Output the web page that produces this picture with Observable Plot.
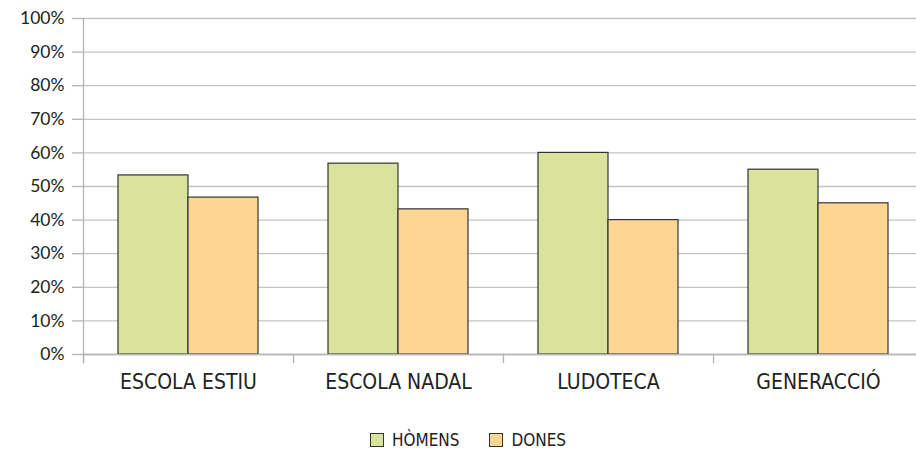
<!DOCTYPE html>
<html>
<head>
<meta charset="utf-8">
<script src="https://cdn.jsdelivr.net/npm/d3@7"></script>
<script src="https://cdn.jsdelivr.net/npm/@observablehq/plot@0.6"></script>
<style>
  html, body { margin: 0; padding: 0; background: #fff; overflow: hidden; }
  #chart svg { display: block; }
  .legend { display: flex; justify-content: center; align-items: center; height: 31px; padding-top: 12px; padding-left: 20px;
    font-family: "Liberation Sans Narrow", "DejaVu Sans Condensed", sans-serif; font-size: 17px; color: #222; }
  .legend .item { display: flex; align-items: center; margin: 0 15px; }
  .legend .sw { width: 12px; height: 12px; border: 1px solid #333; margin-right: 8px; }
</style>
</head>
<body>
<div id="chart"></div>
<div class="legend" id="legend"></div>
<script>
const categories = ["ESCOLA ESTIU", "ESCOLA NADAL", "LUDOTECA", "GENERACCIÓ"];
const series = ["HÒMENS", "DONES"];
const homens = [53.3, 56.8, 60, 55];
const dones = [46.7, 43.2, 40, 45];
const yTicks = [0, 10, 20, 30, 40, 50, 60, 70, 80, 90, 100];
const colors = ["#dae39c", "#fed693"];

const data = categories.flatMap((c, i) => [
  {cat: c, sex: series[0], v: homens[i]},
  {cat: c, sex: series[1], v: dones[i]}
]);

const chart = Plot.plot({
  width: 916,
  height: 412,
  marginLeft: 83,
  marginRight: -7,
  marginTop: 18,
  marginBottom: 58,
  style: {fontFamily: "Lato, sans-serif", background: "#fff"},
  fx: {domain: categories, padding: 0, label: null},
  x: {domain: series, paddingInner: 0, paddingOuter: 0.5, axis: null},
  y: {domain: [0, 100], label: null, axis: null},
  color: {domain: series, range: colors},
  marks: [
    Plot.gridY(yTicks, {stroke: "#c4c4c4", strokeOpacity: 1, strokeWidth: 1.3}),
    Plot.frame({anchor: "left", facetAnchor: "left", stroke: "#b4b4b4", strokeWidth: 1.3, insetBottom: -8}),
    Plot.frame({anchor: "left", stroke: "#b4b4b4", strokeWidth: 1.3, insetTop: 336, insetBottom: -8}),
    Plot.axisY({ticks: yTicks, tickFormat: d => d + "%", tickSize: 11, tickPadding: 8,
      stroke: "#b4b4b4", strokeWidth: 1.3, fontSize: 17.5, fill: "#222", label: null}),
    Plot.axisFx({anchor: "bottom", tickSize: 0, tickPadding: 20, label: null,
      fontSize: 21, fill: "#222", fontFamily: "Liberation Sans Narrow, DejaVu Sans Condensed, sans-serif"}),
    Plot.barY(data, {fx: "cat", x: "sex", y: "v", fill: "sex", stroke: "#333", strokeWidth: 1.2}),
    Plot.ruleY([0], {stroke: "#b4b4b4", strokeWidth: 1.3})
  ]
});
document.getElementById("chart").appendChild(chart);

const legend = document.getElementById("legend");
series.forEach((s, i) => {
  const item = document.createElement("div");
  item.className = "item";
  const sw = document.createElement("div");
  sw.className = "sw";
  sw.style.background = colors[i];
  const t = document.createElement("span");
  t.textContent = s;
  item.appendChild(sw);
  item.appendChild(t);
  legend.appendChild(item);
});
</script>
</body>
</html>
